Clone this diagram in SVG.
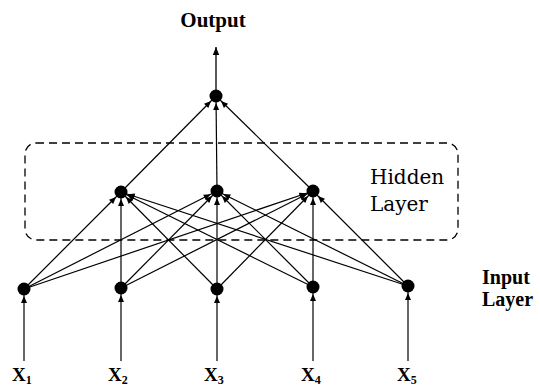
<svg xmlns="http://www.w3.org/2000/svg" width="540" height="390" viewBox="0 0 540 390">
<style>
.e{stroke:#000;stroke-width:1.2;fill:none;marker-end:url(#ah)}
.n{fill:#000}
text{font-family:'Liberation Serif','Times New Roman',serif;fill:#000}
.b{font-weight:bold}
.h{font-family:'DejaVu Serif',serif}
</style>
<defs>
<marker id="ah" markerUnits="userSpaceOnUse" markerWidth="20" markerHeight="20" refX="7" refY="0" orient="auto" viewBox="-20 -10 20 20" overflow="visible">
<path d="M-7,-3 L0,0 L-7,3 Z" fill="#000"/>
</marker>
<marker id="ah0" markerUnits="userSpaceOnUse" markerWidth="20" markerHeight="20" refX="0" refY="0" orient="auto" viewBox="-20 -10 20 20" overflow="visible">
<path d="M-8,-3.2 L0,0 L-8,3.2 Z" fill="#000"/>
</marker>
</defs>
<rect x="25" y="143" width="433" height="97" rx="11" ry="11" fill="none" stroke="#000" stroke-width="1.3" stroke-dasharray="8 5"/>
<g id="connectors">
<line x1="216" y1="90" x2="216" y2="47" stroke="#000" stroke-width="1.3" marker-end="url(#ah0)"/>
<line class="e" x1="121" y1="192" x2="216" y2="96"/>
<line class="e" x1="217" y1="191" x2="216" y2="96"/>
<line class="e" x1="313" y1="191" x2="216" y2="96"/>
<line class="e" x1="24" y1="289" x2="121" y2="192"/>
<line class="e" x1="24" y1="289" x2="217" y2="191"/>
<line class="e" x1="24" y1="289" x2="313" y2="191"/>
<line class="e" x1="121" y1="288" x2="121" y2="192"/>
<line class="e" x1="121" y1="288" x2="217" y2="191"/>
<line class="e" x1="121" y1="288" x2="313" y2="191"/>
<line class="e" x1="217" y1="289" x2="121" y2="192"/>
<line class="e" x1="217" y1="289" x2="217" y2="191"/>
<line class="e" x1="217" y1="289" x2="313" y2="191"/>
<line class="e" x1="313" y1="287" x2="121" y2="192"/>
<line class="e" x1="313" y1="287" x2="217" y2="191"/>
<line class="e" x1="313" y1="287" x2="313" y2="191"/>
<line class="e" x1="408" y1="286" x2="121" y2="192"/>
<line class="e" x1="408" y1="286" x2="217" y2="191"/>
<line class="e" x1="408" y1="286" x2="313" y2="191"/>
<line class="e" x1="24" y1="361" x2="24" y2="289"/>
<line class="e" x1="121" y1="361" x2="121" y2="288"/>
<line class="e" x1="217" y1="361" x2="217" y2="289"/>
<line class="e" x1="313" y1="361" x2="313" y2="287"/>
<line class="e" x1="408" y1="361" x2="408" y2="286"/>
</g>
<g id="output"><circle class="n" cx="216" cy="96" r="6.5"/></g>
<g id="h1"><circle class="n" cx="121" cy="192" r="6.5"/></g>
<g id="h2"><circle class="n" cx="217" cy="191" r="6.5"/></g>
<g id="h3"><circle class="n" cx="313" cy="191" r="6.5"/></g>
<g id="i1"><circle class="n" cx="24" cy="289" r="6.5"/></g>
<g id="i2"><circle class="n" cx="121" cy="288" r="6.5"/></g>
<g id="i3"><circle class="n" cx="217" cy="289" r="6.5"/></g>
<g id="i4"><circle class="n" cx="313" cy="287" r="6.5"/></g>
<g id="i5"><circle class="n" cx="408" cy="286" r="6.5"/></g>
<g id="labels">
<text class="b" x="213" y="27" font-size="21" text-anchor="middle">Output</text>
<text class="h" x="370" y="184" font-size="20">Hidden</text>
<text class="h" x="370" y="211" font-size="20">Layer</text>
<text class="b" x="482" y="284" font-size="20">Input</text>
<text class="b" x="482" y="306" font-size="20">Layer</text>
<text class="b" x="12" y="381" font-size="19">X<tspan font-size="12" dy="3">1</tspan></text>
<text class="b" x="108" y="381" font-size="19">X<tspan font-size="12" dy="3">2</tspan></text>
<text class="b" x="204" y="381" font-size="19">X<tspan font-size="12" dy="3">3</tspan></text>
<text class="b" x="301" y="381" font-size="19">X<tspan font-size="12" dy="3">4</tspan></text>
<text class="b" x="397" y="381" font-size="19">X<tspan font-size="12" dy="3">5</tspan></text>
</g>
</svg>
